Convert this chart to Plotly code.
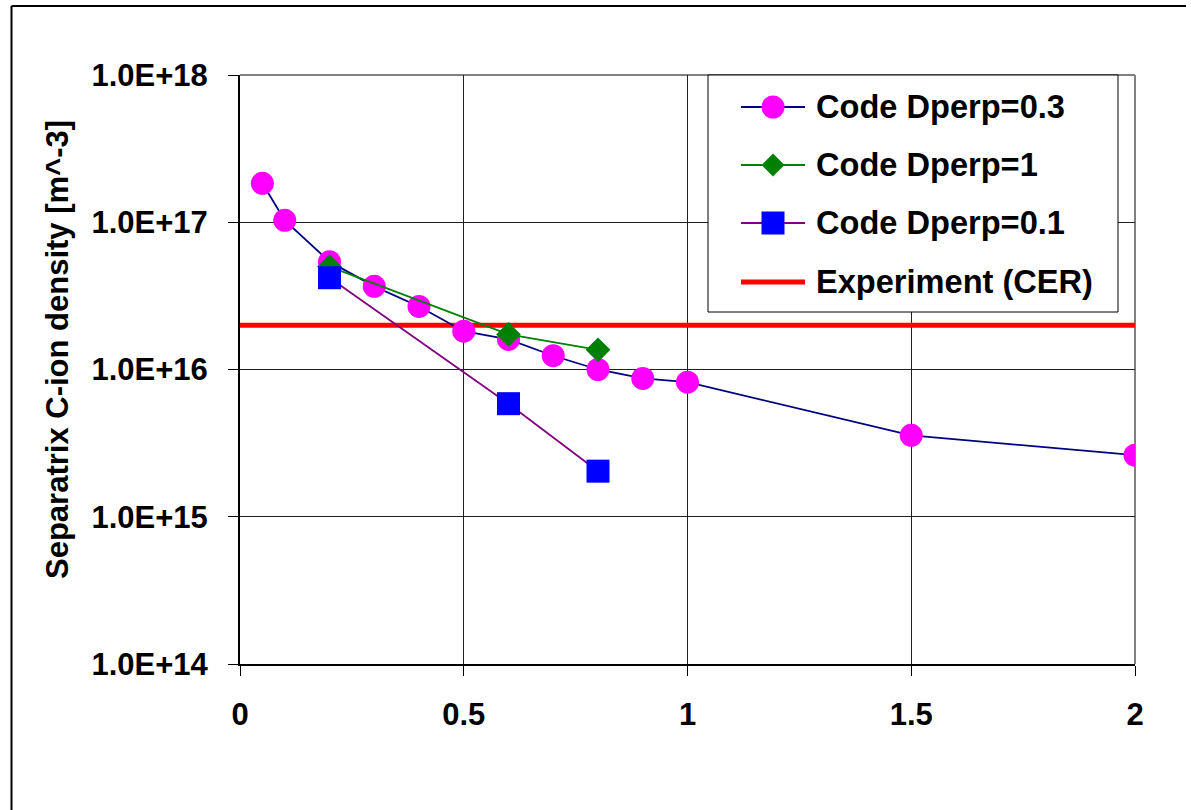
import plotly.graph_objects as go

# Separatrix C-ion density vs. x for several perpendicular diffusion coefficients
x_d03 = [0.05, 0.1, 0.2, 0.3, 0.4, 0.5, 0.6, 0.7, 0.8, 0.9, 1.0, 1.5, 2.0]
y_d03 = [1.84e17, 1.03e17, 5.4e16, 3.67e16, 2.68e16, 1.82e16, 1.6e16,
         1.24e16, 1.0e16, 8.7e15, 8.2e15, 3.57e15, 2.62e15]

x_d1 = [0.2, 0.6, 0.8]
y_d1 = [5.0e16, 1.73e16, 1.36e16]

x_d01 = [0.2, 0.6, 0.8]
y_d01 = [4.2e16, 5.86e15, 2.04e15]

x_exp = [0.0, 2.0]
y_exp = [2.0e16, 2.0e16]

names = ["Code Dperp=0.3", "Code Dperp=1", "Code Dperp=0.1", "Experiment (CER)"]

x_tickvals = [0, 0.5, 1, 1.5, 2]
x_ticktext = ["0", "0.5", "1", "1.5", "2"]
y_tickvals = [1e14, 1e15, 1e16, 1e17, 1e18]
y_ticktext = ["1.0E+14", "1.0E+15", "1.0E+16", "1.0E+17", "1.0E+18"]

FONT = "Liberation Sans, Arial, sans-serif"

NAVY, GREEN, PURPLE = "#000080", "#008000", "#800080"
MAGENTA, BLUE, RED = "#FF00FF", "#0000FF", "#FF0000"

fig = go.Figure()

# experimental level drawn first so the markers sit on top of it
fig.add_trace(go.Scatter(
    x=x_exp, y=y_exp, name=names[3], mode="lines",
    line=dict(color=RED, width=5)))

fig.add_trace(go.Scatter(
    x=x_d03, y=y_d03, name=names[0], mode="lines+markers",
    line=dict(color=NAVY, width=1.8),
    marker=dict(symbol="circle", size=23, color=MAGENTA, line=dict(width=0))))

fig.add_trace(go.Scatter(
    x=x_d1, y=y_d1, name=names[1], mode="lines+markers",
    line=dict(color=GREEN, width=1.8),
    marker=dict(symbol="diamond", size=19, color=GREEN, line=dict(width=0))))

fig.add_trace(go.Scatter(
    x=x_d01, y=y_d01, name=names[2], mode="lines+markers",
    line=dict(color=PURPLE, width=1.8),
    marker=dict(symbol="square", size=23, color=BLUE, line=dict(width=0))))

L, R, T, B = 240, 56, 75, 146
W, H = 1191, 810
pw, ph = W - L - R, H - T - B


def px_x(p):
    return (p - L) / pw


def px_y(p):
    return (H - B - p) / ph


shapes = [
    # gray plot-area border on top and right
    dict(type="line", xref="paper", yref="paper", x0=0, x1=1, y0=1, y1=1,
         line=dict(color="#808080", width=2), layer="below"),
    dict(type="line", xref="paper", yref="paper", x0=1, x1=1, y0=0, y1=1,
         line=dict(color="#808080", width=2), layer="below"),
    # outer chart frame
    dict(type="line", xref="paper", yref="paper",
         x0=px_x(11.5), x1=px_x(1186), y0=px_y(6), y1=px_y(6),
         line=dict(color="black", width=2)),
    dict(type="line", xref="paper", yref="paper",
         x0=px_x(11.5), x1=px_x(11.5), y0=px_y(6), y1=px_y(815),
         line=dict(color="black", width=2)),
    # legend box
    dict(type="rect", xref="paper", yref="paper",
         x0=px_x(708), x1=px_x(1118), y0=px_y(75), y1=px_y(312),
         fillcolor="white", line=dict(color="#000000", width=1), layer="above"),
]

annotations = [
    dict(text="Separatrix C-ion density [m^-3]", textangle=-90,
         xref="paper", yref="paper", x=px_x(57), y=px_y(350),
         xanchor="center", yanchor="middle", showarrow=False,
         font=dict(family=FONT, size=31, color="black", weight="bold")),
]

# legend entries: line sample, marker glyph and label
row_y = [107, 165, 223, 282]
line_colors = [NAVY, GREEN, PURPLE, RED]
line_widths = [1.8, 1.8, 1.8, 5]
sx0, sx1, cx, half = 741, 805, 773, 11.5
for i, (yy, lc, lw) in enumerate(zip(row_y, line_colors, line_widths)):
    shapes.append(dict(type="line", xref="paper", yref="paper",
                       x0=px_x(sx0), x1=px_x(sx1), y0=px_y(yy), y1=px_y(yy),
                       line=dict(color=lc, width=lw), layer="above"))
    annotations.append(dict(text=names[i], xref="paper", yref="paper",
                            x=px_x(814), y=px_y(yy - 1), xanchor="left",
                            yanchor="middle", showarrow=False,
                            font=dict(family=FONT, size=32.6, color="black",
                                      weight="bold")))

# circle glyph
shapes.append(dict(type="circle", xref="paper", yref="paper",
                   x0=px_x(cx - half), x1=px_x(cx + half),
                   y0=px_y(row_y[0] - half), y1=px_y(row_y[0] + half),
                   fillcolor=MAGENTA, line=dict(width=0), layer="above"))
# diamond glyph
dy = row_y[1]
shapes.append(dict(type="path", xref="paper", yref="paper",
                   path=(f"M {px_x(cx - half)} {px_y(dy)} L {px_x(cx)} {px_y(dy - half)} "
                         f"L {px_x(cx + half)} {px_y(dy)} L {px_x(cx)} {px_y(dy + half)} Z"),
                   fillcolor=GREEN, line=dict(width=0), layer="above"))
# square glyph
shapes.append(dict(type="rect", xref="paper", yref="paper",
                   x0=px_x(cx - half), x1=px_x(cx + half),
                   y0=px_y(row_y[2] - half), y1=px_y(row_y[2] + half),
                   fillcolor=BLUE, line=dict(width=0), layer="above"))

fig.update_layout(
    width=W, height=H,
    margin=dict(l=L, r=R, t=T, b=B, pad=0),
    paper_bgcolor="white", plot_bgcolor="white",
    font=dict(family=FONT, color="black", weight="bold"),
    showlegend=False,
    xaxis=dict(
        range=[0, 2], tickvals=x_tickvals, ticktext=x_ticktext,
        showgrid=True, gridcolor="#202020", gridwidth=1,
        showline=True, linecolor="black", linewidth=2,
        ticks="outside", ticklen=10, tickcolor="black", tickwidth=1,
        tickfont=dict(family=FONT, size=31, color="black", weight="bold"),
        ticklabelstandoff=12, zeroline=False,
    ),
    yaxis=dict(
        type="log", range=[14, 18], tickvals=y_tickvals, ticktext=y_ticktext,
        showgrid=True, gridcolor="#202020", gridwidth=1,
        showline=True, linecolor="black", linewidth=2,
        ticks="outside", ticklen=10, tickcolor="black", tickwidth=1,
        tickfont=dict(family=FONT, size=31, color="black", weight="bold"),
        ticklabelstandoff=14, zeroline=False,
    ),
    shapes=shapes,
    annotations=annotations,
)

fig.write_html("out.html")
